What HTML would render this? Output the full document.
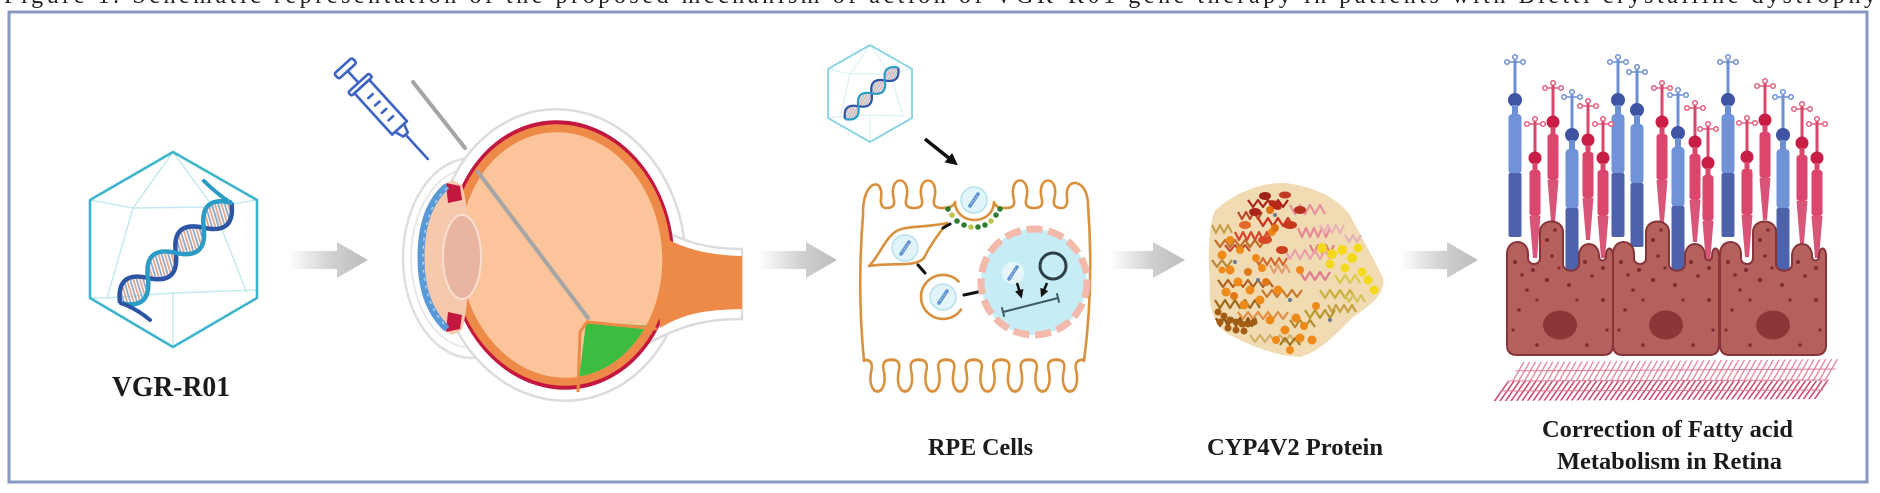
<!DOCTYPE html>
<html><head><meta charset="utf-8">
<style>
html,body{margin:0;padding:0;background:#fff;}
svg{display:block;}
text{font-family:"Liberation Serif","Times New Roman",serif;font-weight:bold;fill:#1b1b1b;}
</style></head><body>
<svg width="1880" height="493" viewBox="0 0 1880 493" xmlns="http://www.w3.org/2000/svg">
<defs>
 <linearGradient id="ag" x1="0" y1="0" x2="1" y2="0">
  <stop offset="0" stop-color="#ffffff"/>
  <stop offset="0.55" stop-color="#d0d0d0"/>
  <stop offset="1" stop-color="#bcbcbc"/>
 </linearGradient>
 <pattern id="rungs" width="7" height="60" patternUnits="userSpaceOnUse" patternTransform="rotate(25)">
  <rect x="0" y="0" width="2" height="60" fill="#e2a58a"/>
  <rect x="3.5" y="0" width="2" height="60" fill="#8fa6c8"/>
 </pattern>
 <pattern id="hatchA" width="5" height="40" patternUnits="userSpaceOnUse" patternTransform="rotate(30)">
  <rect x="0" y="0" width="1.4" height="40" fill="#e38aa2"/>
 </pattern>
 <pattern id="hatchB" width="4.5" height="40" patternUnits="userSpaceOnUse" patternTransform="rotate(35)">
  <rect x="0" y="0" width="1.6" height="40" fill="#cc4a70"/>
 </pattern>
 <marker id="ah" viewBox="0 0 10 10" refX="7" refY="5" markerWidth="3.5" markerHeight="3.5" orient="auto">
  <path d="M0,0 L10,5 L0,10 z" fill="#111"/>
 </marker>
 <clipPath id="vitClip">
  <ellipse cx="561" cy="255" rx="101" ry="123" transform="rotate(-6 561 255)"/>
 </clipPath>
 <clipPath id="bmClip">
  <polygon points="1522,362 1842,359 1818,399 1493,401"/>
 </clipPath>
 <g id="dna">
  <path d="M0,0 Q21,-30 42,0 T84,0 T126,0 T168,0 Q147,-30 126,0 Q105,30 84,0 Q63,-30 42,0 Q21,30 0,0 Z" fill="url(#rungs)"/>
  <path d="M0,0 Q21,-30 42,0 T84,0 T126,0 T168,0" fill="none" stroke="#2c55a4" stroke-width="5"/>
  <path d="M0,0 Q21,30 42,0 T84,0 T126,0 T168,0" fill="none" stroke="#2a9cc6" stroke-width="5"/>
 </g>
 <g id="vdna">
  <path d="M-4,6 L4,-6" stroke="#5f92cf" stroke-width="3.5" stroke-linecap="round"/>
  <path d="M-3,4 L3,-4" stroke="#b5d6f2" stroke-width="1.2" stroke-dasharray="1.5 1.5"/>
 </g>
 <g id="ves">
  <circle r="13" fill="#e0f4f9" stroke="#b5e1ec" stroke-width="1.5"/>
  <use href="#vdna"/>
 </g>
 <path id="omega" d="M-14,8 C-8,8 -5,6 -6,0 C-13,-26 13,-26 6,0 C5,6 8,8 14,8"/>
 <g id="rod">
  <line x1="-8" y1="-38" x2="8" y2="-38" stroke="#6d8fd3" stroke-width="1.5"/>
  <g fill="#fff" stroke="#6d8fd3" stroke-width="1.5">
   <circle cx="-8" cy="-38" r="2.3"/><circle cx="0" cy="-43" r="2.3"/><circle cx="8" cy="-38" r="2.3"/>
  </g>
  <line x1="0" y1="-40" x2="0" y2="0" stroke="#6d8fd3" stroke-width="3"/>
  <circle r="7" fill="#3f55a3"/>
  <rect x="-3" y="5" width="6" height="10" fill="#6d8fd3"/>
  <rect x="-6.5" y="14" width="13" height="60" rx="4" fill="#6f93d6"/>
  <rect x="-6.5" y="73" width="13" height="64" rx="2" fill="#4e62ab"/>
 </g>
 <g id="cone">
  <line x1="-8" y1="-34" x2="8" y2="-34" stroke="#e0607e" stroke-width="1.5"/>
  <g fill="#fff" stroke="#e0607e" stroke-width="1.5">
   <circle cx="-8" cy="-34" r="2.3"/><circle cx="0" cy="-39" r="2.3"/><circle cx="8" cy="-34" r="2.3"/>
  </g>
  <line x1="0" y1="-37" x2="0" y2="0" stroke="#d9476b" stroke-width="3"/>
  <circle r="6.5" fill="#c81d45"/>
  <rect x="-2.5" y="5" width="5" height="8" fill="#d9476b"/>
  <rect x="-5.5" y="12" width="11" height="46" rx="3" fill="#da466c"/>
  <polygon points="-5.5,58 5.5,58 2,100 -2,100" fill="#d95577"/>
 </g>
 <g id="rcell">
  <path d="M0,345 L0,254 C0,238 21,238 21,254 L21,258 C21,266 33,266 33,258 L33,232 C33,218 56,218 56,232 L56,264 C56,273 72,273 72,264 L72,256 C72,240 92,240 92,256 C92,262 99,262 99,256 C99,246 106,246 106,256 L106,345 Q106,355 96,355 L10,355 Q0,355 0,345 Z" fill="#b4615d" stroke="#87343a" stroke-width="2"/>
  <g fill="#7b2b31">
   <circle cx="8" cy="262" r="2"/><circle cx="15" cy="275" r="1.8"/><circle cx="26" cy="270" r="2"/>
   <circle cx="40" cy="240" r="2"/><circle cx="45" cy="256" r="1.8"/><circle cx="40" cy="280" r="2.2"/>
   <circle cx="52" cy="268" r="1.6"/><circle cx="62" cy="285" r="2"/><circle cx="78" cy="262" r="2"/>
   <circle cx="85" cy="276" r="1.8"/><circle cx="96" cy="268" r="2"/><circle cx="20" cy="290" r="1.8"/>
   <circle cx="70" cy="300" r="1.6"/><circle cx="12" cy="310" r="1.8"/><circle cx="96" cy="300" r="2"/>
   <circle cx="30" cy="345" r="1.8"/><circle cx="80" cy="345" r="1.8"/><circle cx="48" cy="230" r="1.8"/>
   <circle cx="100" cy="330" r="1.6"/><circle cx="6" cy="330" r="1.6"/><circle cx="30" cy="300" r="1.6"/>
  </g>
  <ellipse cx="53" cy="325" rx="17" ry="14.5" fill="#8b3737"/>
 </g>
</defs>

<rect x="0" y="0" width="1880" height="493" fill="#fff"/>

<!-- clipped caption text from above -->
<text x="4" y="3" font-size="24" textLength="1872" lengthAdjust="spacing" style="font-weight:normal;fill:#222">Figure 1. Schematic representation of the proposed mechanism of action of VGR-R01 gene therapy in patients with Bietti crystalline dystrophy</text>

<!-- frame -->
<rect x="9" y="12" width="1858" height="470" fill="none" stroke="#8898c0" stroke-width="3"/>

<!-- ===== Main hexagon with DNA ===== -->
<path d="M90,200 L133,208 L173,152 L213,207 L257,200 M133,208 L213,207 M133,208 L107,298 L90,298 M107,298 L173,293 L257,290 M173,293 L173,347 M213,207 L247,293" fill="none" stroke="#c3e8f0" stroke-width="1.4"/>
<polygon points="173,152 257,200 257,298 173,347 90,298 90,200" fill="none" stroke="#3eb5cc" stroke-width="2.6" stroke-linejoin="round"/>
<use href="#dna" transform="translate(120,303) rotate(-42) scale(0.893)"/>
<path d="M231,203 Q216,193 204,181" fill="none" stroke="#2a9cc6" stroke-width="4" stroke-linecap="round"/>
<path d="M121,303 Q137,309 150,320" fill="none" stroke="#2c55a4" stroke-width="4" stroke-linecap="round"/>
<text x="112" y="396" font-size="28" textLength="118" lengthAdjust="spacingAndGlyphs">VGR-R01</text>

<!-- arrows -->
<polygon points="288,251 337,251 337,242 368,260 337,278 337,269 288,269" fill="url(#ag)"/>
<polygon points="758,251 806,251 806,242 837,260 806,278 806,269 758,269" fill="url(#ag)"/>
<polygon points="1110,251 1153,251 1153,242 1185,260 1153,278 1153,269 1110,269" fill="url(#ag)"/>
<polygon points="1400,251 1447,251 1447,242 1478,260 1447,278 1447,269 1400,269" fill="url(#ag)"/>

<!-- ===== Syringe ===== -->
<g transform="translate(345,68) rotate(47.7)" fill="none" stroke="#3d63c4" stroke-width="2.6" stroke-linejoin="round" stroke-linecap="round">
 <rect x="-3" y="-12" width="7" height="24" rx="2"/>
 <line x1="4" y1="0" x2="20" y2="0"/>
 <rect x="20" y="-14" width="5" height="28" rx="1.5"/>
 <rect x="25" y="-10" width="56" height="20"/>
 <line x1="38" y1="-3" x2="38" y2="3"/>
 <line x1="48" y1="-3" x2="48" y2="3"/>
 <line x1="58" y1="-3" x2="58" y2="3"/>
 <line x1="68" y1="-3" x2="68" y2="3"/>
 <path d="M81,-6 L90,-3 L90,3 L81,6"/>
 <line x1="90" y1="0" x2="123" y2="0"/>
</g>

<!-- ===== Eye ===== -->
<ellipse cx="472" cy="258" rx="69" ry="100" fill="#fff" stroke="#dedede" stroke-width="2.5"/>
<ellipse cx="472" cy="258" rx="61" ry="90" fill="none" stroke="#e8e8e8" stroke-width="2"/>
<ellipse cx="561" cy="255" rx="124" ry="146" transform="rotate(-6 561 255)" fill="#fff" stroke="#dcdcdc" stroke-width="2.5"/>
<path d="M640,212 C668,238 700,249 742,249 L742,319 C705,319 682,325 645,345 Z" fill="#fff" stroke="#dcdcdc" stroke-width="2.5"/>
<ellipse cx="561" cy="255" rx="113" ry="135" transform="rotate(-6 561 255)" fill="#c3173f"/>
<path d="M655,232 C675,245 700,255 742,256 L742,309 C705,310 685,313 660,328 Z" fill="#ee8a48"/>
<ellipse cx="561" cy="255" rx="110" ry="131" transform="rotate(-6 561 255)" fill="#ee8a48"/>
<ellipse cx="561" cy="255" rx="101" ry="123" transform="rotate(-6 561 255)" fill="#fcc49b"/>
<g clip-path="url(#vitClip)">
 <path d="M586,322 L668,327 L668,410 L565,410 L578,388 Z" fill="#3dbd40"/>
</g>
<path d="M578,392 L580,332 L587,322 L657,329" fill="none" stroke="#ee8a48" stroke-width="3"/>
<path d="M452,180 C430,195 419,225 419,257 C419,290 430,320 452,335 L462,330 C471,300 472,215 462,185 Z" fill="#f6c9ad"/>
<path d="M446,183 L460,186 L462,200 L448,203 Z" fill="#c3173f"/>
<path d="M446,332 L460,329 L462,315 L448,312 Z" fill="#c3173f"/>
<path d="M447,186 C427,203 421,230 421,257 C421,285 427,310 447,329" fill="none" stroke="#5899d6" stroke-width="7"/>
<path d="M447,188 C429,204 423,230 423,257 C423,285 429,310 447,327" fill="none" stroke="#b0d4f2" stroke-width="1.5" stroke-dasharray="3 5"/>
<ellipse cx="462" cy="257" rx="19" ry="42" fill="#e9b4a0" stroke="#f8ddd2" stroke-width="2"/>
<line x1="413" y1="82" x2="465" y2="148" stroke="#a5a5a5" stroke-width="4" stroke-linecap="round"/>
<line x1="478" y1="172" x2="588" y2="318" stroke="#a5a5a5" stroke-width="4" stroke-linecap="round"/>

<!-- ===== RPE cell ===== -->
<path d="M828,69 L850,74 L870,45 L890,74 L912,69 M850,74 L890,74 M850,74 L840,117 L828,118 M840,117 L870,115 L905,116 M870,115 L870,142 M890,74 L903,116" fill="none" stroke="#d6eff5" stroke-width="1"/>
<polygon points="870,45 912,69 912,118 870,142 828,118 828,69" fill="none" stroke="#8fd5e5" stroke-width="2" stroke-linejoin="round"/>
<use href="#dna" transform="translate(845,119) rotate(-44) scale(0.44)"/>
<line x1="925" y1="139" x2="955" y2="163" stroke="#111" stroke-width="3.5" marker-end="url(#ah)"/>

<g fill="none" stroke="#d8913f" stroke-width="2.6" stroke-linecap="round" stroke-linejoin="round">
 <path d="M863,215 C862,180 884,176 881,198 C880,205 883,208 886,208"/>
 <path d="M863,215 Q857,290 864,361"/>
 <use href="#omega" x="900" y="200"/>
 <use href="#omega" x="928" y="200"/>
 <path d="M942,208 C950,208 954,206 955,202 C956,226 993,226 994,202 C995,206 998,208 1006,208"/>
 <use href="#omega" x="1020" y="200"/>
 <use href="#omega" x="1048" y="200"/>
 <path d="M1062,208 C1065,208 1068,205 1067,198 C1064,176 1088,178 1088,205"/>
 <path d="M1088,205 Q1094,285 1084,361"/>
 <use href="#omega" transform="translate(877.5,369) scale(0.98,-1.15)"/>
 <use href="#omega" transform="translate(905,369) scale(0.98,-1.15)"/>
 <use href="#omega" transform="translate(932.5,369) scale(0.98,-1.15)"/>
 <use href="#omega" transform="translate(960,369) scale(0.98,-1.15)"/>
 <use href="#omega" transform="translate(987.5,369) scale(0.98,-1.15)"/>
 <use href="#omega" transform="translate(1015,369) scale(0.98,-1.15)"/>
 <use href="#omega" transform="translate(1042.5,369) scale(0.98,-1.15)"/>
 <use href="#omega" transform="translate(1070,369) scale(0.98,-1.15)"/>
 <path d="M869,266 C878,258 884,240 895,232 C905,225 925,228 947,223 C940,232 930,245 924,258 C915,268 890,262 869,266 Z"/>
 <path d="M958.6,281.4 A22,22 0 1 0 961,309.6"/>
</g>
<g>
 <circle cx="948" cy="209" r="2.8" fill="#2f7d32"/><circle cx="952" cy="215" r="2.8" fill="#b9c84a"/>
 <circle cx="957" cy="221" r="2.8" fill="#2f7d32"/><circle cx="964" cy="225" r="2.8" fill="#2f7d32"/>
 <circle cx="971" cy="227" r="2.8" fill="#b9c84a"/><circle cx="978" cy="227" r="2.8" fill="#2f7d32"/>
 <circle cx="985" cy="225" r="2.8" fill="#2f7d32"/><circle cx="991" cy="221" r="2.8" fill="#b9c84a"/>
 <circle cx="996" cy="215" r="2.8" fill="#2f7d32"/><circle cx="1000" cy="209" r="2.8" fill="#2f7d32"/>
</g>
<use href="#ves" x="974" y="200"/>
<use href="#ves" x="905" y="248"/>
<use href="#ves" x="943" y="297"/>
<g stroke="#111" stroke-width="3" stroke-linecap="round">
 <line x1="943" y1="228" x2="950" y2="224"/>
 <line x1="918" y1="265" x2="925" y2="273"/>
 <line x1="964" y1="295" x2="978" y2="292"/>
</g>
<circle cx="1034" cy="282" r="53" fill="#c6edf5" stroke="#f3b9aa" stroke-width="7" stroke-dasharray="16 6"/>
<circle cx="1013" cy="273" r="11" fill="#e6f7fb"/>
<use href="#vdna" x="1013" y="273"/>
<circle cx="1053" cy="266" r="13" fill="none" stroke="#2f3f48" stroke-width="3"/>
<line x1="1017" y1="283" x2="1021" y2="296" stroke="#111" stroke-width="2.5" marker-end="url(#ah)"/>
<line x1="1047" y1="283" x2="1042" y2="295" stroke="#111" stroke-width="2.5" marker-end="url(#ah)"/>
<g stroke="#3f5b66" stroke-width="2">
 <line x1="1003" y1="312" x2="1058" y2="298"/>
 <line x1="1001.8" y1="307.2" x2="1004.2" y2="316.8"/>
 <line x1="1056.8" y1="293.2" x2="1059.2" y2="302.8"/>
</g>
<text x="928" y="455" font-size="24" textLength="105" lengthAdjust="spacingAndGlyphs">RPE Cells</text>

<!-- ===== Protein ===== -->
<g>
 <path d="M1214,212 C1230,195 1260,182 1285,183 C1310,186 1335,195 1350,215 C1360,235 1372,255 1383,278 C1386,295 1370,305 1352,318 C1338,332 1320,352 1300,357 C1278,356 1255,348 1232,336 C1215,328 1208,310 1210,285 C1208,260 1208,232 1214,212 Z" fill="#efd7ab" opacity=".9"/>
 <g fill="none" stroke-width="2.2" stroke-linejoin="round">
  <path d="M1215,240 l5,7 l5,-7 l5,7 l5,-7 l5,7 l5,-7 l5,7 l5,-7 l5,7 l5,-7" stroke="#c07028"/>
  <path d="M1218,280 l5,7 l5,-7 l5,7 l5,-7 l5,7 l5,-7 l5,7 l5,-7 l5,7 l5,-7 l5,7" stroke="#b06020"/>
  <path d="M1238,312 l5,7 l5,-7 l5,7 l5,-7 l5,7 l5,-7 l5,7 l5,-7 l5,7 l5,-7" stroke="#e09040"/>
  <path d="M1255,258 l4,7 l4,-7 l4,7 l4,-7 l4,7 l4,-7 l4,7 l4,-7" stroke="#d06a30"/>
  <path d="M1328,305 l4,7 l4,-7 l4,7 l4,-7 l4,7 l4,-7 l4,7" stroke="#c8a040"/>
  <path d="M1310,245 l4,8 l4,-8 l4,8 l4,-8 l4,8 l4,-8" stroke="#e07a8a"/>
  <path d="M1238,212 l4,7 l4,-7 l4,7 l4,-7 l4,7 l4,-7" stroke="#b84a2a"/>
  <path d="M1262,290 l5,7 l5,-7 l5,7 l5,-7 l5,7 l5,-7 l5,7 l5,-7" stroke="#c8782c"/>
  <path d="M1345,235 l4,7 l4,-7 l4,7 l4,-7" stroke="#e6b0b6"/>
  <path d="M1290,320 l5,7 l5,-7 l5,7 l5,-7 l5,7" stroke="#b48a2c"/>
  <path d="M1248,200 l5,7 l5,-7 l5,7 l5,-7 l5,7 l5,-7 l5,7 l5,-7" stroke="#a8261a"/>
  <path d="M1258,218 l5,8 l5,-8 l5,8 l5,-8 l5,8 l5,-8 l5,8" stroke="#c73520"/>
  <path d="M1235,232 l4,8 l4,-8 l4,8 l4,-8 l4,8 l4,-8 l4,8 l4,-8 l4,8" stroke="#d2482a"/>
  <path d="M1290,205 l5,9 l5,-9 l5,9 l5,-9 l5,9 l5,-9 l5,9" stroke="#e3909c"/>
  <path d="M1298,228 l4,9 l4,-9 l4,9 l4,-9 l4,9 l4,-9 l4,9 l4,-9" stroke="#e68a98"/>
  <path d="M1285,250 l5,9 l5,-9 l5,9 l5,-9 l5,9 l5,-9 l5,9 l5,-9 l5,9" stroke="#e9a0aa"/>
  <path d="M1300,272 l5,8 l5,-8 l5,8 l5,-8 l5,8 l5,-8" stroke="#dd7c8e"/>
  <path d="M1320,290 l5,8 l5,-8 l5,8 l5,-8 l5,8 l5,-8 l5,8" stroke="#c9b040"/>
  <path d="M1305,310 l5,8 l5,-8 l5,8 l5,-8 l5,8 l5,-8" stroke="#b89a30"/>
  <path d="M1335,275 l5,8 l5,-8 l5,8 l5,-8 l5,8" stroke="#d8c850"/>
  <path d="M1215,300 l5,8 l5,-8 l5,8 l5,-8 l5,8 l5,-8 l5,8 l5,-8 l5,8" stroke="#a06a1c"/>
  <path d="M1216,318 l4,8 l4,-8 l4,8 l4,-8 l4,8 l4,-8 l4,8 l4,-8 l4,8 l4,-8" stroke="#8c5212"/>
  <path d="M1212,225 l4,8 l4,-8 l4,8 l4,-8 l4,8" stroke="#c9a050"/>
  <path d="M1212,260 l5,7 l5,-7 l5,7 l5,-7" stroke="#b88838"/>
  <path d="M1250,335 l5,7 l5,-7 l5,7 l5,-7 l5,7 l5,-7 l5,7 l5,-7 l5,7" stroke="#d0b068"/>
  <path d="M1270,265 l4,8 l4,-8 l4,8 l4,-8 l4,8" stroke="#e0a070"/>
  <path d="M1225,245 l5,6 l5,-6 l5,6 l5,-6 l5,6" stroke="#c05030"/>
  <path d="M1320,225 l4,8 l4,-8 l4,8 l4,-8 l4,8 l4,-8" stroke="#e9b0b8"/>
  <path d="M1345,295 l4,7 l4,-7 l4,7 l4,-7 l4,7" stroke="#d7c25a"/>
  <path d="M1280,345 l5,-7 l5,7 l5,-7 l5,7" stroke="#a0781c"/>
 </g>
 <g fill="#b8281a">
  <ellipse cx="1275" cy="205" rx="7" ry="4" transform="rotate(30 1275 205)"/>
  <ellipse cx="1290" cy="225" rx="7" ry="4" fill="#c8381c"/>
  <ellipse cx="1265" cy="240" rx="7" ry="4" fill="#d84a24"/>
  <ellipse cx="1245" cy="225" rx="6" ry="4" fill="#e06a2a"/>
  <ellipse cx="1282" cy="250" rx="6" ry="4" fill="#cf3e1f"/>
  <ellipse cx="1300" cy="210" rx="6" ry="4" fill="#b83020"/>
  <ellipse cx="1255" cy="212" rx="6" ry="4" fill="#a92418"/>
  <ellipse cx="1265" cy="196" rx="6" ry="4" fill="#9e2418"/>
  <ellipse cx="1285" cy="195" rx="6" ry="3.5" fill="#c23a22"/>
 </g>
 <g fill="#ee8a1a">
  <circle cx="1222" cy="255" r="4.5"/><circle cx="1230" cy="270" r="4.5"/><circle cx="1238" cy="282" r="4.5"/>
  <circle cx="1226" cy="292" r="4.5"/><circle cx="1250" cy="290" r="4.5"/><circle cx="1260" cy="300" r="4.5"/>
  <circle cx="1244" cy="305" r="4.5"/><circle cx="1270" cy="320" r="4.5"/><circle cx="1285" cy="330" r="4.5"/>
  <circle cx="1300" cy="338" r="4.5"/><circle cx="1312" cy="340" r="4.5"/><circle cx="1296" cy="318" r="4.5"/>
  <circle cx="1278" cy="290" r="4.5"/><circle cx="1262" cy="268" r="4"/><circle cx="1230" cy="240" r="4"/>
  <circle cx="1240" cy="250" r="4"/><circle cx="1272" cy="232" r="4"/><circle cx="1300" cy="270" r="4"/>
  <circle cx="1316" cy="306" r="4"/><circle cx="1290" cy="350" r="4"/><circle cx="1256" cy="258" r="4"/>
  <circle cx="1270" cy="210" r="4" fill="#e07010"/><circle cx="1275" cy="228" r="4" fill="#e07010"/>
  <circle cx="1248" cy="272" r="4" fill="#e07818"/><circle cx="1266" cy="282" r="4" fill="#e07818"/>
  <circle cx="1234" cy="296" r="4" fill="#e07818"/><circle cx="1276" cy="340" r="4"/>
  <circle cx="1304" cy="326" r="4"/><circle cx="1222" cy="270" r="3.5"/>
 </g>
 <g fill="#f2d91c">
  <circle cx="1322" cy="248" r="5"/><circle cx="1332" cy="254" r="5"/><circle cx="1342" cy="250" r="5"/>
  <circle cx="1352" cy="258" r="5"/><circle cx="1345" cy="268" r="4.5"/><circle cx="1358" cy="248" r="4.5"/>
  <circle cx="1368" cy="280" r="4.5"/><circle cx="1374" cy="290" r="4.5"/><circle cx="1330" cy="264" r="4.5"/>
  <circle cx="1362" cy="272" r="4.5"/>
 </g>
 <g fill="#a35c14">
  <circle cx="1218" cy="312" r="3.5"/><circle cx="1224" cy="316" r="3.5"/><circle cx="1230" cy="320" r="3.5"/>
  <circle cx="1236" cy="322" r="3.5"/><circle cx="1242" cy="324" r="3.5"/><circle cx="1248" cy="324" r="3.5"/>
  <circle cx="1254" cy="322" r="3.5"/><circle cx="1220" cy="322" r="3.5"/><circle cx="1228" cy="328" r="3.5"/>
  <circle cx="1236" cy="330" r="3.5"/><circle cx="1244" cy="331" r="3.5"/>
 </g>
 <g fill="#6b7b8f">
  <circle cx="1235" cy="262" r="2"/><circle cx="1258" cy="280" r="2"/><circle cx="1290" cy="300" r="2"/>
  <circle cx="1330" cy="320" r="2"/><circle cx="1275" cy="215" r="2"/>
 </g>
</g>
<text x="1207" y="455" font-size="24" textLength="176" lengthAdjust="spacingAndGlyphs">CYP4V2 Protein</text>

<!-- ===== Retina ===== -->
<use href="#cone" x="1553" y="122"/>
<use href="#cone" x="1662" y="122"/>
<use href="#cone" x="1765" y="120"/>
<use href="#rod" x="1515" y="100"/>
<use href="#rod" x="1572" y="135"/>
<use href="#rod" x="1618" y="100"/>
<use href="#rod" x="1637" y="110"/>
<use href="#rod" x="1678" y="133"/>
<use href="#rod" x="1728" y="100"/>
<use href="#rod" x="1783" y="135"/>
<use href="#cone" x="1535" y="158"/>
<use href="#cone" x="1588" y="140"/>
<use href="#cone" x="1603" y="158"/>
<use href="#cone" x="1695" y="142"/>
<use href="#cone" x="1708" y="163"/>
<use href="#cone" x="1747" y="157"/>
<use href="#cone" x="1802" y="143"/>
<use href="#cone" x="1817" y="158"/>
<use href="#rcell" x="1507" y="0"/>
<use href="#rcell" x="1613" y="0"/>
<use href="#rcell" x="1720" y="0"/>
<g clip-path="url(#bmClip)">
 <rect x="1490" y="358" width="360" height="23" fill="url(#hatchA)"/>
 <rect x="1490" y="381" width="360" height="22" fill="url(#hatchB)"/>
 <g stroke="#dc7f98" stroke-width="1">
  <line x1="1490" y1="371" x2="1850" y2="369"/>
  <line x1="1490" y1="381" x2="1850" y2="380"/>
  <line x1="1490" y1="391" x2="1850" y2="390"/>
 </g>
</g>
<text x="1542" y="437" font-size="24" textLength="251" lengthAdjust="spacingAndGlyphs">Correction of Fatty acid</text>
<text x="1557" y="469" font-size="24" textLength="225" lengthAdjust="spacingAndGlyphs">Metabolism in Retina</text>
</svg>
</body></html>
